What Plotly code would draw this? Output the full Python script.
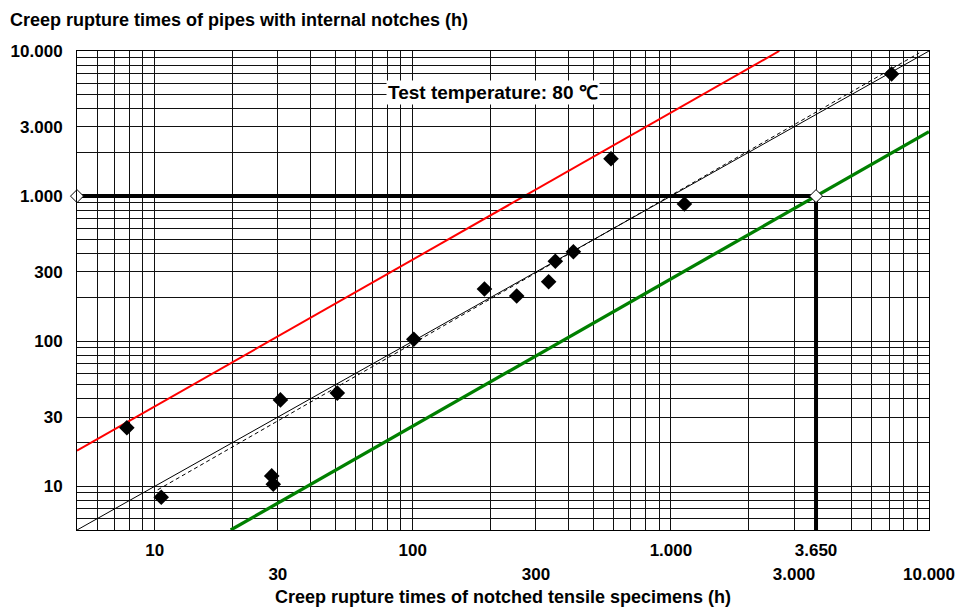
import plotly.graph_objects as go

# ---- data ----
pts_x = [7.8, 10.6, 28.4, 28.8, 30.7, 51.0, 100.9, 189.5, 252.7, 336, 356.6, 419, 586, 1128, 7160]
pts_y = [25.3, 8.4, 11.8, 10.35, 39.4, 43.9, 103.2, 229, 205, 257, 355.6, 414, 1810, 882, 6944]

ref_x = [5, 3650]          # open diamonds (design point)
ref_y = [1000, 1000]
design_x = [5, 3650, 3650]  # thick black read-off lines
design_y = [1000, 1000, 5]

diag_x = [5, 10000]         # y = x
diag_y = [5, 10000]
fit_x = [10.27, 9160]       # regression (dashed)
fit_y = [9.46, 9690]
upper_x = [5, 2630]         # red upper bound
upper_y = [17.6, 10000]
lower_x = [19.7, 10000]     # green lower bound
lower_y = [5, 2780]

x_grid = [5, 6, 7, 8, 9, 10, 20, 30, 40, 50, 60, 70, 80, 90, 100, 200, 300, 400, 500, 600,
          700, 800, 900, 1000, 2000, 3000, 3650, 5000, 6000, 7000, 8000, 9000, 10000]
x_row1 = {10: "10", 100: "100", 1000: "1.000", 3650: "3.650"}
x_row2_vals = [30, 300, 3000, 10000]
x_row2_text = ["30", "300", "3.000", "10.000"]

y_grid = [5, 6, 7, 8, 9, 10, 20, 30, 40, 50, 60, 70, 80, 90, 100, 200, 300, 400, 500, 600,
          700, 800, 900, 1000, 2000, 3000, 4000, 5000, 6000, 7000, 8000, 9000, 10000]
y_labels = {10: "10", 30: "30", 100: "100", 300: "300", 1000: "1.000", 3000: "3.000", 10000: "10.000"}

title_text = "Creep rupture times of pipes with internal notches (h)"
xtitle_text = "Creep rupture times of notched tensile specimens (h)"
note_text = "Test temperature: 80 ℃"

FONT = "Liberation Sans, Arial, sans-serif"
W, H = 958, 608
L, R, T, B = 77, 29, 51, 78
PW, PH = W - L - R, H - T - B
PAGE_BOTTOM = H - B  # plot bottom in page px

def px_x(page_x):
    return (page_x - L) / PW

def px_y(page_y):
    return (PAGE_BOTTOM - page_y) / PH

fig = go.Figure()
fig.add_trace(go.Scatter(x=upper_x, y=upper_y, mode="lines", line=dict(color="#ff0000", width=2), showlegend=False))
fig.add_trace(go.Scatter(x=lower_x, y=lower_y, mode="lines", line=dict(color="#008000", width=3.3), showlegend=False))
fig.add_trace(go.Scatter(x=diag_x, y=diag_y, mode="lines", line=dict(color="black", width=1), showlegend=False))
fig.add_trace(go.Scatter(x=fit_x, y=fit_y, mode="lines", line=dict(color="black", width=1, dash="4px,3px"), showlegend=False))
fig.add_trace(go.Scatter(x=design_x, y=design_y, mode="lines", line=dict(color="black", width=4), showlegend=False))
fig.add_trace(go.Scatter(x=ref_x, y=ref_y, mode="markers", cliponaxis=False,
                         marker=dict(symbol="diamond", size=10, color="white", line=dict(color="black", width=1)),
                         showlegend=False))
fig.add_trace(go.Scatter(x=pts_x, y=pts_y, mode="markers",
                         marker=dict(symbol="diamond", size=12, color="black"), showlegend=False))
# carrier for second row of x labels
fig.add_trace(go.Scatter(x=[x_row2_vals[0]], y=[5], xaxis="x2", mode="markers",
                         marker=dict(opacity=0), hoverinfo="skip", showlegend=False))

tickfont = dict(family=FONT, size=17, color="black", weight="bold")
xr = [0.69897, 4]

fig.update_layout(
    width=W, height=H,
    margin=dict(l=L, r=R, t=T, b=B),
    paper_bgcolor="white", plot_bgcolor="white",
    title=dict(text=title_text,
               font=dict(family=FONT, size=18, color="black", weight="bold"),
               xref="container", yref="container", x=10 / W, xanchor="left",
               y=1 - 20 / H, yanchor="middle"),
    xaxis=dict(type="log", range=xr, tickvals=x_grid, automargin=False,
               ticktext=[x_row1.get(v, "") for v in x_grid],
               showgrid=True, gridcolor="#111", gridwidth=1,
               showline=True, linecolor="black", linewidth=1, mirror=True,
               ticks="", tickfont=tickfont, ticklabelstandoff=5, zeroline=False),
    xaxis2=dict(type="log", range=xr, overlaying="x", anchor="y", side="bottom", automargin=False,
                tickvals=x_row2_vals, ticktext=x_row2_text, showgrid=False,
                showline=False, ticks="", tickfont=tickfont, ticklabelstandoff=32, zeroline=False),
    yaxis=dict(type="log", range=xr, tickvals=y_grid, automargin=False,
               ticktext=[y_labels.get(v, "") for v in y_grid],
               showgrid=True, gridcolor="#111", gridwidth=1,
               showline=True, linecolor="black", linewidth=1, mirror=True,
               ticks="", tickfont=tickfont, ticklabelstandoff=10, zeroline=False),
    annotations=[
        dict(text=note_text, xref="paper", yref="paper",
             x=px_x(493), y=px_y(92), showarrow=False,
             xanchor="center", yanchor="middle", bgcolor="white",
             font=dict(family=FONT, size=19, color="black", weight="bold")),
        dict(text=xtitle_text, xref="paper", yref="paper",
             x=px_x(503), y=px_y(597), showarrow=False,
             xanchor="center", yanchor="middle",
             font=dict(family=FONT, size=18, color="black", weight="bold")),
    ],
)

fig.write_html("out.html", config={"displayModeBar": False},
               post_script="document.body.style.margin='0';document.body.style.overflow='hidden';")
